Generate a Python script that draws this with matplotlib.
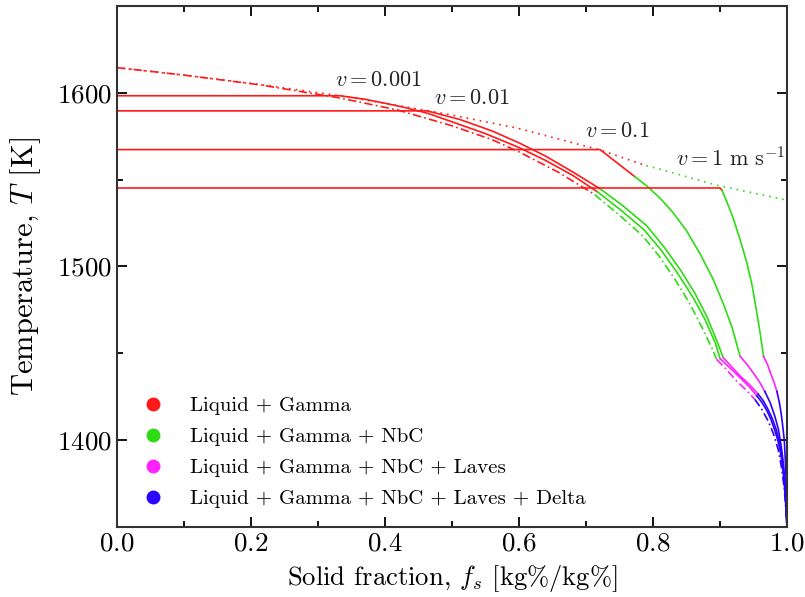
import matplotlib
matplotlib.use("Agg")
import matplotlib.pyplot as plt
from matplotlib.lines import Line2D

plt.rcParams["font.family"] = "serif"
plt.rcParams["font.serif"] = ["cmr10"]
plt.rcParams["mathtext.fontset"] = "cm"
plt.rcParams["axes.formatter.use_mathtext"] = True

red = "#ff1a1a"
green = "#2ddc14"
magenta = "#ff22ff"
blue = "#2a00ff"

# equilibrium-like dotted line (red part, green part)
dot_red_fs = [0.0, 0.1, 0.213, 0.333, 0.463, 0.497, 0.597, 0.721, 0.79]
dot_red_T = [1614.5, 1610.2, 1604.8, 1598.3, 1589.8, 1587.4, 1579.7, 1567.1, 1558.0]
dot_green_fs = [0.79, 0.806, 0.895, 0.994, 1.0]
dot_green_T = [1558.0, 1556.5, 1546.8, 1538.7, 1538.2]

# Scheil (dash-dot)
sch_red_fs = [0.0, 0.1, 0.213, 0.333, 0.42, 0.5, 0.56, 0.6, 0.66, 0.713]
sch_red_T = [1614.5, 1610.2, 1604.6, 1597.0, 1590.0, 1581.0, 1573.0, 1566.0, 1554.0, 1541.4]
sch_green_fs = [0.713, 0.75, 0.785, 0.81, 0.833, 0.855, 0.873, 0.888, 0.895]
sch_green_T = [1541.4, 1529.5, 1517.5, 1505.5, 1492.5, 1478.5, 1465.0, 1453.0, 1446.5]
sch_mag_fs = [0.895, 0.91, 0.925, 0.94, 0.952]
sch_mag_T = [1446.5, 1440.5, 1434.0, 1428.5, 1423.5]
sch_blue_fs = [0.952, 0.962, 0.972, 0.98, 0.987, 0.992, 0.996, 0.998, 1.0]
sch_blue_T = [1423.5, 1418.0, 1411.0, 1403.5, 1394.5, 1384.0, 1372.0, 1362.0, 1350.0]

# v = 0.001
v1_red_fs = [0.0, 0.333, 0.37, 0.4, 0.43, 0.463, 0.5, 0.55, 0.6, 0.64, 0.68, 0.717]
v1_red_T = [1598.3, 1598.3, 1596.3, 1594.0, 1591.5, 1588.3, 1583.3, 1576.5, 1568.5,
            1561.0, 1552.5, 1543.0]
v1_green_fs = [0.717, 0.752, 0.787, 0.812, 0.837, 0.86, 0.877, 0.893, 0.9]
v1_green_T = [1543.0, 1532.5, 1521.0, 1509.5, 1496.0, 1482.0, 1470.0, 1456.0, 1447.0]
v1_mag_fs = [0.9, 0.915, 0.93, 0.943, 0.955]
v1_mag_T = [1447.0, 1441.5, 1436.0, 1431.0, 1425.5]
v1_blue_fs = [0.955, 0.963, 0.97, 0.976, 0.982, 0.987, 0.99, 0.993, 0.995, 0.997, 0.998, 1.0]
v1_blue_T = [1425.5, 1421.5, 1417.0, 1412.0, 1405.5, 1399.0, 1393.5, 1386.0, 1379.0,
             1370.0, 1364.0, 1350.0]

# v = 0.01
v2_red_fs = [0.0, 0.463, 0.512, 0.56, 0.601, 0.64, 0.68, 0.722]
v2_red_T = [1589.6, 1589.6, 1584.6, 1578.0, 1571.0, 1563.5, 1554.5, 1544.5]
v2_green_fs = [0.722, 0.755, 0.79, 0.815, 0.84, 0.862, 0.88, 0.895, 0.905]
v2_green_T = [1544.5, 1535.0, 1523.7, 1512.0, 1498.6, 1485.0, 1471.5, 1457.5, 1447.4]
v2_mag_fs = [0.905, 0.918, 0.93, 0.944, 0.957]
v2_mag_T = [1447.4, 1442.0, 1437.0, 1432.0, 1426.5]
v2_blue_fs = [0.957, 0.965, 0.972, 0.978, 0.984, 0.988, 0.991, 0.994, 0.996, 0.998, 0.999, 1.0]
v2_blue_T = [1426.5, 1422.5, 1417.5, 1412.5, 1406.0, 1400.0, 1394.0, 1386.0, 1379.0,
             1370.0, 1364.0, 1350.0]

# v = 0.1
v3_red_fs = [0.0, 0.721, 0.773]
v3_red_T = [1567.3, 1567.3, 1551.7]
v3_green_fs = [0.773, 0.79, 0.81, 0.83, 0.85, 0.87, 0.89, 0.905, 0.918, 0.93]
v3_green_T = [1551.7, 1546.6, 1539.6, 1531.0, 1520.6, 1507.5, 1492.5, 1478.5, 1465.0, 1448.3]
v3_mag_fs = [0.93, 0.94, 0.95, 0.959, 0.967]
v3_mag_T = [1448.3, 1443.8, 1438.6, 1433.5, 1428.0]
v3_blue_fs = [0.967, 0.975, 0.982, 0.987, 0.99, 0.993, 0.995, 0.997, 0.998, 1.0]
v3_blue_T = [1428.0, 1421.5, 1413.6, 1406.5, 1400.0, 1392.0, 1385.0, 1375.0, 1368.0, 1350.0]

# v = 1 m/s
v4_red_fs = [0.0, 0.9, 0.903]
v4_red_T = [1545.2, 1545.2, 1543.9]
v4_green_fs = [0.903, 0.91, 0.92, 0.93, 0.94, 0.948, 0.955, 0.96, 0.965]
v4_green_T = [1543.9, 1537.5, 1527.5, 1515.5, 1502.4, 1489.0, 1473.4, 1461.5, 1448.3]
v4_mag_fs = [0.965, 0.971, 0.976, 0.981, 0.985]
v4_mag_T = [1448.3, 1443.5, 1438.0, 1433.0, 1428.0]
v4_blue_fs = [0.985, 0.989, 0.992, 0.994, 0.996, 0.998, 0.9995, 1.0]
v4_blue_T = [1428.0, 1421.0, 1413.6, 1407.0, 1400.0, 1385.0, 1368.0, 1350.0]

labels = ["$v = 0.001$", "$v = 0.01$", "$v = 0.1$", r"$v = 1\ \mathrm{m\ s^{-1}}$"]
label_fs = [0.39, 0.53, 0.746, 0.915]
label_T = [1607.5, 1597.1, 1578.0, 1562.3]

phases = ["Liquid + Gamma", "Liquid + Gamma + NbC",
          "Liquid + Gamma + NbC + Laves", "Liquid + Gamma + NbC + Laves + Delta"]
phase_colors = [red, green, magenta, blue]

fig = plt.figure(figsize=(8.05, 5.97), dpi=100)
ax = fig.add_axes([0.1453, 0.1173, 0.8323, 0.8727])

lw = 1.2
ax.plot(dot_red_fs, dot_red_T, color=red, lw=lw, ls=(0, (1, 3)))
ax.plot(dot_green_fs, dot_green_T, color=green, lw=lw, ls=(0, (1, 3)))

dd = (0, (5, 2, 1, 2))
ax.plot(sch_red_fs, sch_red_T, color=red, lw=lw, ls=dd)
ax.plot(sch_green_fs, sch_green_T, color=green, lw=lw, ls=dd)
ax.plot(sch_mag_fs, sch_mag_T, color=magenta, lw=lw, ls=dd)
ax.plot(sch_blue_fs, sch_blue_T, color=blue, lw=lw, ls=dd)

for r, g, m, b in [
    ((v1_red_fs, v1_red_T), (v1_green_fs, v1_green_T), (v1_mag_fs, v1_mag_T), (v1_blue_fs, v1_blue_T)),
    ((v2_red_fs, v2_red_T), (v2_green_fs, v2_green_T), (v2_mag_fs, v2_mag_T), (v2_blue_fs, v2_blue_T)),
    ((v3_red_fs, v3_red_T), (v3_green_fs, v3_green_T), (v3_mag_fs, v3_mag_T), (v3_blue_fs, v3_blue_T)),
    ((v4_red_fs, v4_red_T), (v4_green_fs, v4_green_T), (v4_mag_fs, v4_mag_T), (v4_blue_fs, v4_blue_T)),
]:
    ax.plot(*r, color=red, lw=lw)
    ax.plot(*g, color=green, lw=lw)
    ax.plot(*m, color=magenta, lw=lw)
    ax.plot(*b, color=blue, lw=lw)

for txt, x, y in zip(labels, label_fs, label_T):
    ax.text(x, y, txt, fontsize=16, ha="center", va="center", color="#222222")

handles = [Line2D([], [], ls="none", marker="o", markersize=9, color=c) for c in phase_colors]
ax.legend(handles, phases, loc="lower left", bbox_to_anchor=(0.01, 0.02), frameon=False,
          fontsize=15, handletextpad=0.78, labelspacing=0.6, borderaxespad=0.0)

ax.set_xlim(0, 1)
ax.set_ylim(1350, 1650)
ax.set_xticks([0.0, 0.2, 0.4, 0.6, 0.8, 1.0])
ax.set_xticks([0.1, 0.3, 0.5, 0.7, 0.9], minor=True)
ax.set_yticks([1400, 1500, 1600])
ax.set_yticks([1450, 1550], minor=True)
ax.tick_params(which="both", direction="in", top=True, right=True, width=1.3, labelsize=19.5)
ax.tick_params(which="major", length=7)
ax.tick_params(which="minor", length=4)
for s in ax.spines.values():
    s.set_linewidth(1.5)
    s.set_color("#333333")

ax.set_xlabel("Solid fraction, $f_s$ [kg%/kg%]", fontsize=19.2, labelpad=5)
ax.set_ylabel("Temperature, $T$ [K]", fontsize=22, labelpad=10)

fig.savefig("out.png", dpi=100)
